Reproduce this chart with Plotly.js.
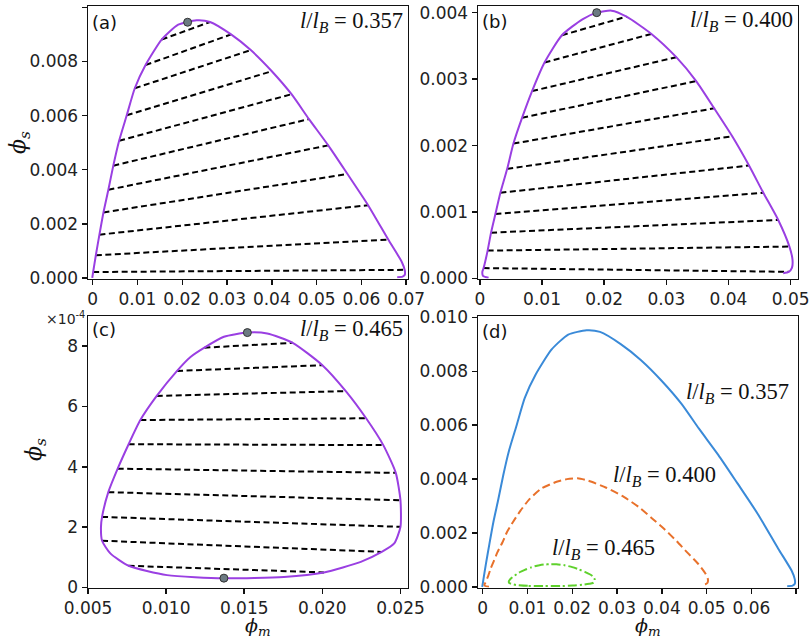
<!DOCTYPE html>
<html><head><meta charset="utf-8">
<script src="https://cdn.plot.ly/plotly-3.0.1.min.js"></script>
<style>html,body{margin:0;padding:0;background:#fff}#plot{width:810px;height:639px}</style>
</head><body><div id="plot"></div>
<script>
// ---- Panel (a): l/lB = 0.357 binodal and tie lines ----
const curveA_x = [-0.0001, 0.0001, 0.0007, 0.0015, 0.0024, 0.0035, 0.0046, 0.0059, 0.0076, 0.0094, 0.0118, 0.0154, 0.0191, 0.0232, 0.0262, 0.0309, 0.0353, 0.0400, 0.0444, 0.0483, 0.0526, 0.0569, 0.0615, 0.0660, 0.0690, 0.0697, 0.0697, 0.0692, 0.0680];
const curveA_y = [0.00000, 0.00022, 0.00084, 0.00160, 0.00242, 0.00326, 0.00415, 0.00507, 0.00601, 0.00701, 0.00787, 0.00881, 0.00936, 0.00952, 0.00946, 0.00900, 0.00842, 0.00764, 0.00679, 0.00587, 0.00490, 0.00384, 0.00269, 0.00142, 0.00060, 0.00028, 0.00012, 0.00005, 0.00003];
const tieA_xl = [0.0001, 0.0007, 0.0015, 0.0024, 0.0035, 0.0046, 0.0059, 0.0076, 0.0094, 0.0118, 0.0154];
const tieA_yl = [0.00022, 0.00084, 0.00160, 0.00242, 0.00326, 0.00415, 0.00507, 0.00601, 0.00701, 0.00787, 0.00881];
const tieA_xr = [0.0695, 0.0660, 0.0615, 0.0569, 0.0526, 0.0483, 0.0444, 0.0400, 0.0353, 0.0309, 0.0262];
const tieA_yr = [0.00030, 0.00142, 0.00269, 0.00384, 0.00490, 0.00587, 0.00679, 0.00764, 0.00842, 0.00900, 0.00946];
const critA = {x: [0.0212], y: [0.00945]};

// ---- Panel (b): l/lB = 0.400 ----
const curveB_x = [0.0014, 0.0005, 0.0004, 0.0006, 0.00125, 0.0018, 0.0025, 0.0033, 0.0044, 0.0054, 0.0068, 0.0084, 0.0104, 0.0132, 0.0165, 0.0188, 0.0212, 0.0236, 0.0276, 0.0316, 0.0348, 0.0377, 0.0406, 0.0433, 0.0456, 0.0480, 0.0498, 0.0503, 0.0502, 0.0497, 0.0488];
const curveB_y = [0.00001, 0.00004, 0.00010, 0.000157, 0.00042, 0.00069, 0.00097, 0.00129, 0.00165, 0.00203, 0.00242, 0.00282, 0.00325, 0.00366, 0.00390, 0.00400, 0.00403, 0.00394, 0.00368, 0.00333, 0.00297, 0.00256, 0.00214, 0.00170, 0.00129, 0.00088, 0.00048, 0.00028, 0.00016, 0.00010, 0.00008];
const tieB_xl = [0.0006, 0.00125, 0.0018, 0.0025, 0.0033, 0.0044, 0.0054, 0.0068, 0.0084, 0.0104, 0.0132];
const tieB_yl = [0.000157, 0.00042, 0.00069, 0.00097, 0.00129, 0.00165, 0.00203, 0.00242, 0.00282, 0.00325, 0.00366];
const tieB_xr = [0.0497, 0.0498, 0.0480, 0.0456, 0.0433, 0.0406, 0.0377, 0.0348, 0.0316, 0.0276, 0.0236];
const tieB_yr = [0.00010, 0.00048, 0.00088, 0.00129, 0.00170, 0.00214, 0.00256, 0.00297, 0.00333, 0.00368, 0.00394];
const critB = {x: [0.0188], y: [0.00400]};

// ---- Panel (c): l/lB = 0.465 (phi_s in units of 1e-4) ----
const curveC_x = [0.0137, 0.01006, 0.0076, 0.00643, 0.0059, 0.00583, 0.0059, 0.0063, 0.0069, 0.0076, 0.00835, 0.0094, 0.0107, 0.01156, 0.01245, 0.0137, 0.0152, 0.01647, 0.0181, 0.0200, 0.0215, 0.0228, 0.0239, 0.0247, 0.0250, 0.0250, 0.0246, 0.0238, 0.02246, 0.0201, 0.01754, 0.0137];
const curveC_y = [0.31, 0.41, 0.72, 1.13, 1.55, 2.01, 2.34, 3.16, 3.94, 4.75, 5.55, 6.35, 7.18, 7.64, 7.95, 8.31, 8.45, 8.42, 8.11, 7.37, 6.51, 5.61, 4.72, 3.80, 2.89, 2.01, 1.46, 1.18, 0.85, 0.50, 0.35, 0.31];
const tieC_xl = [0.0076, 0.0059, 0.0059, 0.0063, 0.0069, 0.0076, 0.00835, 0.0094, 0.0107, 0.01245];
const tieC_yl = [0.72, 1.55, 2.34, 3.16, 3.94, 4.75, 5.55, 6.35, 7.18, 7.95];
const tieC_xr = [0.0201, 0.0238, 0.0250, 0.0250, 0.0247, 0.0239, 0.0228, 0.0215, 0.0200, 0.0181];
const tieC_yr = [0.50, 1.18, 2.01, 2.89, 3.80, 4.72, 5.61, 6.51, 7.37, 8.11];
const critC = {x: [0.0152, 0.0137], y: [8.45, 0.31]};
const scaleC = 1e-4;

// tick labels
const ticksA_x = [0, 0.01, 0.02, 0.03, 0.04, 0.05, 0.06, 0.07];
const ticksA_xt = ["0", "0.01", "0.02", "0.03", "0.04", "0.05", "0.06", "0.07"];
const ticksA_y = [0, 0.002, 0.004, 0.006, 0.008, 0.010];
const ticksA_yt = ["0.000", "0.002", "0.004", "0.006", "0.008", "0.010"];
const ticksB_x = [0, 0.01, 0.02, 0.03, 0.04, 0.05];
const ticksB_xt = ["0", "0.01", "0.02", "0.03", "0.04", "0.05"];
const ticksB_y = [0, 0.001, 0.002, 0.003, 0.004];
const ticksB_yt = ["0.000", "0.001", "0.002", "0.003", "0.004"];
const ticksC_x = [0.005, 0.010, 0.015, 0.020, 0.025];
const ticksC_xt = ["0.005", "0.010", "0.015", "0.020", "0.025"];
const ticksC_y = [0, 2, 4, 6, 8];
const ticksC_yt = ["0", "2", "4", "6", "8"];
const ratioLabels = ["0.357", "0.400", "0.465"];

const PURPLE = '#9a3fe2', BLUE = '#3a8ad8', ORANGE = '#e8712b', GREEN = '#5fd12c';

function ties(xl, yl, xr, yr) {
  const x = [], y = [];
  for (let i = 0; i < xl.length; i++) { x.push(xl[i], xr[i], null); y.push(yl[i], yr[i], null); }
  return {x, y};
}
function panel(cx, cy, t, crit, xa, ya) {
  return [
    {x: t.x, y: t.y, xaxis: xa, yaxis: ya, mode: 'lines', line: {color: '#000', width: 2, dash: '6px,3.5px'}, hoverinfo: 'skip'},
    {x: cx, y: cy, xaxis: xa, yaxis: ya, mode: 'lines', line: {color: PURPLE, width: 2, shape: 'spline', smoothing: 0.6}},
    {x: crit.x, y: crit.y, xaxis: xa, yaxis: ya, mode: 'markers', marker: {color: '#6c7a82', size: 8, line: {color: '#333', width: 1}}}
  ];
}
const tA = ties(tieA_xl, tieA_yl, tieA_xr, tieA_yr);
const tB = ties(tieB_xl, tieB_yl, tieB_xr, tieB_yr);
const tC = ties(tieC_xl, tieC_yl, tieC_xr, tieC_yr);

const data = [].concat(
  panel(curveA_x, curveA_y, tA, critA, 'x', 'y'),
  panel(curveB_x, curveB_y, tB, critB, 'x2', 'y2'),
  panel(curveC_x, curveC_y, tC, critC, 'x3', 'y3'),
  [
    {x: curveA_x, y: curveA_y, xaxis: 'x4', yaxis: 'y4', mode: 'lines', line: {color: BLUE, width: 2, shape: 'spline', smoothing: 0.6}},
    {x: curveB_x, y: curveB_y, xaxis: 'x4', yaxis: 'y4', mode: 'lines', line: {color: ORANGE, width: 2, dash: '8px,4px', shape: 'spline', smoothing: 0.6}},
    {x: curveC_x, y: curveC_y.map(v => v * scaleC), xaxis: 'x4', yaxis: 'y4', mode: 'lines', line: {color: GREEN, width: 2, dash: '9px,3px,2px,3px', shape: 'spline', smoothing: 0.6}}
  ]
);

const W = 810, H = 639;
const px = v => v / W, py = v => 1 - v / H;
const tickfont = {family: 'DejaVu Sans', size: 17, color: '#222'};
function ax(domain, range, tv, tt, anchor) {
  return {domain, range, tickvals: tv, ticktext: tt, anchor, showline: true, mirror: true, linecolor: '#111', linewidth: 1.5,
    ticks: 'outside', ticklen: 5, tickwidth: 1.5, tickcolor: '#111', showgrid: false, zeroline: false, tickfont, fixedrange: true};
}
const cx1 = [px(88), px(407.5)], cx2 = [px(478), px(797.5)];
const ry1 = [py(278.5), py(6)], ry2 = [py(587.5), py(316)];

const serif = {family: 'Liberation Serif', size: 22.5, color: '#111'};
const sans = {family: 'DejaVu Sans', size: 18, color: '#111'};
const greek = {family: 'DejaVu Serif', size: 22, color: '#111'};
const greekM = {family: 'DejaVu Serif', size: 19, color: '#111'};
const ratioText = r => '<i>l</i>/<i>l</i><sub><i>B</i></sub> = ' + r;
function ann(text, x, y, xa, ya, font, extra) {
  return Object.assign({text, x: px(x), y: py(y), xref: 'paper', yref: 'paper', xanchor: xa, yanchor: ya, showarrow: false, font, borderpad: 0}, extra || {});
}
const annotations = [
  ann('(a)', 91, 22, 'left', 'middle', sans),
  ann('(b)', 481, 21, 'left', 'middle', sans),
  ann('(c)', 91, 329, 'left', 'middle', sans),
  ann('(d)', 481, 332, 'left', 'middle', sans),
  ann(ratioText(ratioLabels[0]), 404, 22, 'right', 'middle', serif),
  ann(ratioText(ratioLabels[1]), 794, 21, 'right', 'middle', serif),
  ann(ratioText(ratioLabels[2]), 404, 330, 'right', 'middle', serif),
  ann(ratioText(ratioLabels[0]), 737, 393, 'center', 'middle', serif),
  ann(ratioText(ratioLabels[1]), 664, 476, 'center', 'middle', serif),
  ann(ratioText(ratioLabels[2]), 603, 549, 'center', 'middle', serif),
  ann('×10<sup>-4</sup>', 45, 318, 'left', 'middle', {family: 'DejaVu Sans', size: 14, color: '#222'}),
  ann('<i>ϕ</i><sub><i>s</i></sub>', 19, 143, 'center', 'middle', greek, {textangle: -90}),
  ann('<i>ϕ</i><sub><i>s</i></sub>', 36, 450, 'center', 'middle', greek, {textangle: -90}),
  ann('<i>ϕ</i><sub><i>m</i></sub>', 258, 626, 'center', 'middle', greekM),
  ann('<i>ϕ</i><sub><i>m</i></sub>', 648, 626, 'center', 'middle', greekM)
];

const layout = {
  width: W, height: H, margin: {l: 0, r: 0, t: 0, b: 0}, showlegend: false,
  paper_bgcolor: '#fff', plot_bgcolor: '#fff',
  xaxis: ax(cx1, [-0.00105, 0.0703], ticksA_x, ticksA_xt, 'y'),
  yaxis: ax(ry1, [-0.00002, 0.01005], ticksA_y, ticksA_yt, 'x'),
  xaxis2: ax(cx2, [-0.0003, 0.0511], ticksB_x, ticksB_xt, 'y2'),
  yaxis2: ax(ry1, [0, 0.0041], ticksB_y, ticksB_yt, 'x2'),
  xaxis3: ax(cx1, [0.005, 0.02545], ticksC_x, ticksC_xt, 'y3'),
  yaxis3: ax(ry2, [0, 9], ticksC_y, ticksC_yt, 'x3'),
  xaxis4: ax(cx2, [-0.00105, 0.0703], ticksA_x, ticksA_xt, 'y4'),
  yaxis4: ax(ry2, [-0.00002, 0.01005], ticksA_y, ticksA_yt, 'x4'),
  annotations
};
Plotly.newPlot('plot', data, layout, {staticPlot: true, displayModeBar: false});
</script></body></html>
